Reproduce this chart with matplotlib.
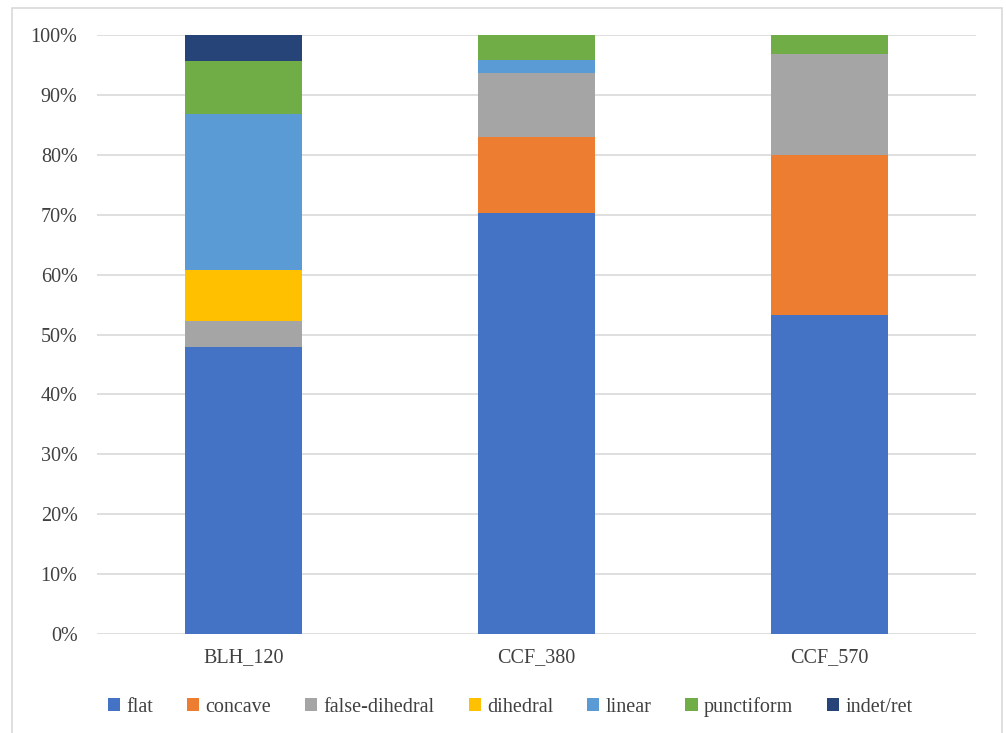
import numpy as np
import matplotlib.pyplot as plt
from matplotlib.patches import Rectangle
from matplotlib.ticker import PercentFormatter

plt.rcParams['font.family'] = ['Liberation Serif', 'DejaVu Serif']

# Categories and stacked shares (percent)
sites = ['BLH_120', 'CCF_380', 'CCF_570']
series = ['flat', 'concave', 'false-dihedral', 'dihedral', 'linear', 'punctiform', 'indet/ret']
flat = [47.9, 70.3, 53.3]
concave = [0.0, 12.7, 26.7]
false_dihedral = [4.4, 10.7, 16.8]
dihedral = [8.5, 0.0, 0.0]
linear = [26.0, 2.1, 0.0]
punctiform = [8.9, 4.2, 3.2]
indet_ret = [4.4, 0.0, 0.0]
colors = ['#4472C4', '#ED7D31', '#A5A5A5', '#FFC000', '#5B9BD5', '#70AD47', '#264478']

fig = plt.figure(figsize=(10.06, 7.33), dpi=100)
# light outer frame like the Excel chart area
fig.patches.append(Rectangle((12 / 1006, -0.01), 990 / 1006, 1 - 8 / 733 + 0.01,
                             transform=fig.transFigure, fill=False,
                             edgecolor='#D9D9D9', linewidth=1.2))
ax = fig.add_axes([97 / 1006, 1 - 634 / 733, 879 / 1006, 599 / 733])

x = np.arange(len(sites))
bottom = np.zeros(len(sites))
for name, vals, c in zip(series, [flat, concave, false_dihedral, dihedral, linear, punctiform, indet_ret], colors):
    vals = np.array(vals)
    ax.bar(x, vals, width=0.4, bottom=bottom, color=c, label=name, zorder=3)
    bottom += vals

ax.set_xlim(-0.5, 2.5)
ax.set_ylim(0, 100)
ax.set_yticks(np.arange(0, 101, 10))
ax.yaxis.set_major_formatter(PercentFormatter(decimals=0))
ax.set_xticks(x)
ax.set_xticklabels(sites)
ax.grid(axis='y', color='#D9D9D9', linewidth=1.2, zorder=0)
for s in ax.spines.values():
    s.set_visible(False)
ax.tick_params(length=0, labelsize=14.5, colors='#404040', pad=10)
ax.tick_params(axis='y', pad=14)

ax.legend(loc='upper center', bbox_to_anchor=(0.47, -0.075), ncol=7, frameon=False,
          fontsize=14.5, handlelength=0.6, handleheight=0.6, handletextpad=0.3,
          columnspacing=1.7, labelcolor='#404040')

fig.savefig('out.png', dpi=100)
